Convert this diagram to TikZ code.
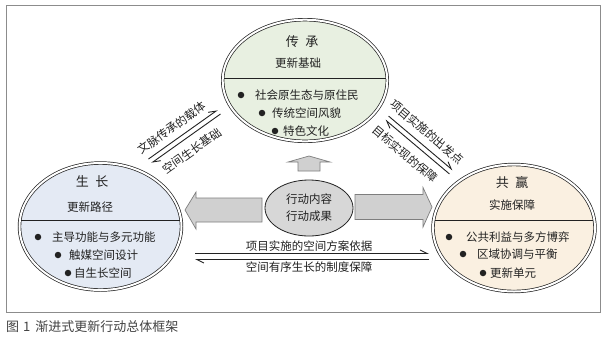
\documentclass[tikz,border=0pt]{standalone}
\usepackage{fontspec}
\setmainfont{Noto Sans CJK SC}
\usetikzlibrary{arrows.meta,shapes.geometric,calc}
\definecolor{topfill}{HTML}{E8F0E1}
\definecolor{leftfill}{HTML}{E4EAF4}
\definecolor{rightfill}{HTML}{FAF0E1}
\definecolor{midfill}{HTML}{D7D7D7}
\definecolor{arrfill}{HTML}{D0D0D0}
\definecolor{arredge}{HTML}{7E7E7E}
\definecolor{framegray}{HTML}{8C8C8C}
\definecolor{ink}{HTML}{222222}
\tikzset{
  bigell/.style={ellipse, draw=ink, line width=0.7pt, double=white, double distance=2pt, inner sep=0pt},
  ttl/.style={font=\fontsize{13}{15}\selectfont, text=ink, inner sep=0pt},
  subttl/.style={font=\fontsize{11.5}{13}\selectfont, text=ink, inner sep=0pt},
  itm/.style={font=\fontsize{11.5}{13}\selectfont, text=ink, anchor=west, inner sep=0pt},
  bul/.style={circle, fill=ink, inner sep=0pt, minimum size=6.5pt},
  divline/.style={draw=ink, line width=0.7pt},
  harpl/.style={draw=ink, line width=0.9pt, -{Straight Barb[harpoon, length=7pt, width=7pt]}},
  fatarrow/.style={fill=arrfill, draw=arredge, line width=0.7pt, line join=miter},
  diaglab/.style={font=\fontsize{11.5}{13}\selectfont, text=ink, inner sep=0pt},
}
\begin{document}
\begin{tikzpicture}[x=1pt, y=-1pt]
\fill[white] (0,0) rectangle (607,341);
\useasboundingbox (0,0) rectangle (607,341);
% frame
\draw[framegray, line width=1pt] (6,5) rectangle (600,312);
\node[anchor=west, font=\fontsize{13}{15}\selectfont, text=ink!85, inner sep=0pt] (cap) at (6,327) {图\hspace{4pt}1\hspace{5pt}渐进式更新行动总体框架};

% top ellipse
\node[bigell, fill=topfill, minimum width=164.6pt, minimum height=121.6pt] (T) at (305,80.5) {};
\draw[divline] ($(T.center)+(-80.8,-2.5)$) -- ($(T.center)+(80.8,-2.5)$);
\node[ttl] (Tt) at (302,42) {传\hspace{0.5em}承};
\node[subttl] (Ts) at (298,63) {更新基础};
\node[bul] (Tb1) at (241,95) {};
\node[itm] (Ti1) at (255,95) {社会原生态与原住民};
\node[bul] (Tb2) at (262,113) {};
\node[itm] (Ti2) at (272,113) {传统空间风貌};
\node[bul] (Tb3) at (275,131) {};
\node[itm] (Ti3) at (283,131) {特色文化};

% left ellipse
\node[bigell, fill=leftfill, minimum width=162pt, minimum height=127pt] (L) at (100.5,226.5) {};
\draw[divline] ($(L.center)+(-79.2,-6.5)$) -- ($(L.center)+(79.2,-6.5)$);
\node[ttl] (Lt) at (92,182) {生\hspace{0.5em}长};
\node[subttl] (Ls) at (90,207) {更新路径};
\node[bul] (Lb1) at (38,237) {};
\node[itm] (Li1) at (52,237) {主导功能与多元功能};
\node[bul] (Lb2) at (58,255) {};
\node[itm] (Li2) at (69,255) {触媒空间设计};
\node[bul] (Lb3) at (68,273) {};
\node[itm] (Li3) at (74,273) {自生长空间};

% right ellipse
\node[bigell, fill=rightfill, minimum width=162pt, minimum height=127pt] (R) at (514,228) {};
\draw[divline] ($(R.center)+(-79,-8)$) -- ($(R.center)+(79,-8)$);
\node[ttl] (Rt) at (512,183) {共\hspace{0.5em}赢};
\node[subttl] (Rs) at (512,205) {实施保障};
\node[bul] (Rb1) at (449,237) {};
\node[itm] (Ri1) at (466,237) {公共利益与多方博弈};
\node[bul] (Rb2) at (463,254) {};
\node[itm] (Ri2) at (477,254) {区域协调与平衡};
\node[bul] (Rb3) at (483,273) {};
\node[itm] (Ri3) at (490,273) {更新单元};

% centre ellipse
\node[ellipse, draw=ink, line width=0.8pt, fill=midfill, minimum width=88pt, minimum height=56pt, inner sep=0pt, align=center, font=\fontsize{11.5}{17}\selectfont, text=ink] (C) at (309,208) {行动内容\\行动成果};

% fat arrows
\draw[fatarrow] (298,171) -- (298,162) -- (288,162) -- (309,156) -- (330,162) -- (320,162) -- (320,171) -- cycle;
\draw[fatarrow] (262,198) -- (196,198) -- (196,192) -- (185,210) -- (196,229) -- (196,222) -- (262,222) -- cycle;
\draw[fatarrow] (355,194.5) -- (423,194.5) -- (423,187.5) -- (432,207) -- (423,227) -- (423,219.5) -- (355,219.5) -- cycle;

% left diagonal pair
\coordinate (a1) at (148.5,159);
\coordinate (a2) at (217.5,110);
\coordinate (b1) at (220.5,114);
\coordinate (b2) at (151.5,163);
\draw[harpl] (a1) -- (a2);
\draw[harpl] (b1) -- (b2);
\node[diaglab, rotate=35.4] (la) at (172,128) {文脉传承的载体};
\node[diaglab, rotate=35.4] (lb) at (192,151) {空间生长基础};

% right diagonal pair
\coordinate (c1) at (388.6,116.1);
\coordinate (c2) at (452.6,170.1);
\coordinate (d1) at (449.4,173.9);
\coordinate (d2) at (385.4,119.9);
\draw[harpl] (c1) -- (c2);
\draw[harpl] (d1) -- (d2);
\node[diaglab, rotate=-40.2] (ra) at (427,132) {项目实施的出发点};
\node[diaglab, rotate=-40.2] (rb) at (405,154) {目标实现的保障};

% horizontal pair
\coordinate (h1) at (195,253.5);
\coordinate (h2) at (429,253.5);
\coordinate (h3) at (429,259.5);
\coordinate (h4) at (195,259.5);
\draw[harpl] (h1) -- (h2);
\draw[harpl] (h3) -- (h4);
\node[diaglab] (hb1) at (309,246) {项目实施的空间方案依据};
\node[diaglab] (hb2) at (309,267.5) {空间有序生长的制度保障};
\end{tikzpicture}
\end{document}
